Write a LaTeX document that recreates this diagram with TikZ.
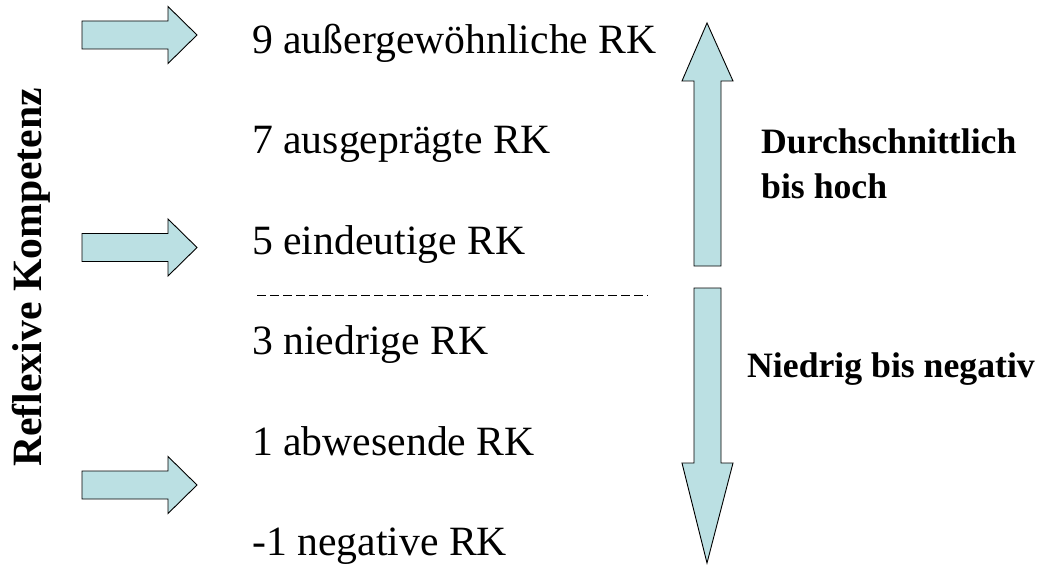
\documentclass[tikz,border=0pt]{standalone}
\usepackage{fontspec}
\setmainfont{Liberation Serif}
\usepackage{tikz}
\usetikzlibrary{positioning}
\definecolor{arrowfill}{RGB}{187,224,227}
\tikzset{
  blockarrow/.style={fill=arrowfill, draw=black, line width=0.9pt, line join=miter},
  level/.style={anchor=base west, inner sep=0pt, font=\fontsize{41.7}{50}\selectfont},
  sidelabel/.style={anchor=base west, inner sep=0pt, align=left,
    font=\fontsize{35.7}{45}\selectfont\bfseries}
}

\begin{document}
\begin{tikzpicture}[x=1pt, y=-1pt]
    % page frame
    \useasboundingbox (0,0) rectangle (1041,567);

    % 1. Axis title (vertical)
    \node[anchor=base, inner sep=0pt, rotate=90,
          font=\fontsize{41.7}{50}\selectfont\bfseries] (axis) at (41,277.5) {Reflexive Kompetenz};

    % 2. Small arrows pointing at the levels
    \foreach \y in {35, 247.5, 485}
        \draw[blockarrow] (82,\y-14) -- (168,\y-14) -- (168,\y-28.5) -- (197,\y)
            -- (168,\y+28.5) -- (168,\y+14) -- (82,\y+14) -- cycle;

    % 3. The levels
    \node[level] (t9)  at (252,53.5)  {9 außergewöhnliche RK};
    \node[level] (t7)  at (252,153.5) {7 ausgeprägte RK};
    \node[level] (t5)  at (252,254.5) {5 eindeutige RK};
    \node[level] (t3)  at (252,354.5) {3 niedrige RK};
    \node[level] (t1)  at (252,455)   {1 abwesende RK};
    \node[level] (tm1) at (252,555)   {-1 negative RK};

    % 4. Dashed separator between 5 and 3
    \coordinate (sepL) at (257,295);
    \coordinate (sepR) at (648,295);
    \draw[line width=0.8pt, dash pattern=on 9pt off 4pt] (sepL) -- (sepR);

    % 5. Big arrows: up and down
    \draw[blockarrow] (694,266) -- (694,81) -- (682,81) -- (707,23)
        -- (733,81) -- (721,81) -- (721,266) -- cycle;
    \draw[blockarrow] (694,288) -- (694,463) -- (682,463) -- (707,563)
        -- (733,463) -- (721,463) -- (721,288) -- cycle;

    % 6. Labels of the big arrows (base = last line)
    \node[sidelabel] (lblhigh) at (761,198) {Durchschnittlich\\bis hoch};
    \node[sidelabel] (lbllow)  at (747,377) {Niedrig bis negativ};
\end{tikzpicture}
\end{document}
